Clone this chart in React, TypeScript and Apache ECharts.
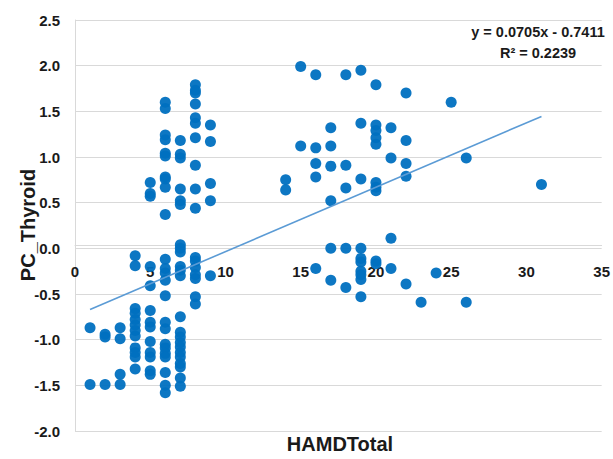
import React, { useEffect, useRef } from "react";
import * as echarts from "echarts";

// HAMDTotal scores (x) and the PC_Thyroid values observed at each score
const hamdScores = [1, 2, 3, 4, 5, 6, 7, 8, 9, 14, 15, 16, 17, 18, 19, 20, 21, 22, 23, 24, 25, 26, 31];
const pcByScore: number[][] = [
  [-0.87, -1.49],
  [-0.94, -0.97, -1.49],
  [-0.87, -0.99, -1.38, -1.49],
  [-0.08, -0.19, -0.66, -0.71, -0.78, -0.84, -0.9, -0.96, -1.09, -1.14, -1.19, -1.32],
  [0.72, 0.6, 0.57, -0.2, -0.41, -0.68, -0.81, -0.86, -1.02, -1.14, -1.19, -1.34, -1.38],
  [1.6, 1.53, 1.24, 1.19, 1.04, 1.01, 0.78, 0.76, 0.67, 0.37, -0.12, -0.22, -0.27, -0.35, -0.52, -0.81, -0.88, -1.05, -1.09, -1.15, -1.19, -1.36, -1.5, -1.58],
  [1.18, 1.03, 0.99, 0.65, 0.52, 0.48, 0.04, 0.0, -0.04, -0.2, -0.24, -0.3, -0.75, -0.92, -0.97, -1.03, -1.08, -1.14, -1.19, -1.26, -1.3, -1.42, -1.51],
  [1.79, 1.73, 1.7, 1.58, 1.43, 1.37, 1.21, 0.91, 0.65, 0.44, -0.1, -0.14, -0.21, -0.29, -0.33, -0.53, -0.61],
  [1.35, 1.17, 0.71, 0.52, -0.3],
  [0.75, 0.64],
  [1.99, 1.12],
  [1.9, 1.1, 0.93, 0.78, -0.22],
  [1.32, 1.12, 0.9, 0.52, 0.0, -0.35],
  [1.9, 0.91, 0.66, 0.0, -0.43],
  [1.95, 1.37, 0.76, 0.0, -0.11, -0.15, -0.25, -0.29, -0.34, -0.53],
  [1.79, 1.35, 1.29, 1.21, 1.14, 0.72, 0.67, 0.63, -0.14, -0.17],
  [1.32, 0.99, 0.11, -0.22],
  [1.7, 1.18, 0.93, 0.79, -0.39],
  [-0.59],
  [-0.27],
  [1.6],
  [0.99, -0.59],
  [0.7],
];

// Linear trendline fitted in the source chart
const trendSlope = 0.0705;
const trendIntercept = -0.7411;
const trendRange = [1, 31];
const equationLines = ["y = 0.0705x - 0.7411", "R² = 0.2239"];

const xTicks = { min: 0, max: 35, interval: 5 };
const yTicks = { min: -2, max: 2.5, interval: 0.5 };

const FONT = "'Liberation Sans', Arial, sans-serif";
const TEXT = "#1a1a1a";
const GRID = "#d9d9d9";
const GRID_BOTTOM = 28;
const HEIGHT = 459;

export default function App() {
  const ref = useRef<HTMLDivElement>(null);

  useEffect(() => {
    if (!ref.current) return;
    const chart = echarts.init(ref.current, undefined, { renderer: "svg" });

    const points: number[][] = [];
    hamdScores.forEach((x, i) => pcByScore[i].forEach((y) => points.push([x, y])));
    const trend = trendRange.map((x) => [x, trendSlope * x + trendIntercept]);

    chart.setOption({
      animation: false,
      backgroundColor: "#ffffff",
      grid: { left: 75, right: 10, top: 20, bottom: GRID_BOTTOM },
      xAxis: {
        type: "value",
        min: xTicks.min,
        max: xTicks.max,
        interval: xTicks.interval,
        axisLine: { show: true, onZero: true, lineStyle: { color: GRID, width: 1 } },
        axisTick: { show: false },
        splitLine: { show: false },
        axisLabel: {
          margin: 19,
          color: TEXT,
          fontFamily: FONT,
          fontWeight: "bold",
          fontSize: 15,
        },
      },
      yAxis: {
        type: "value",
        min: yTicks.min,
        max: yTicks.max,
        interval: yTicks.interval,
        axisLine: { show: true, onZero: false, lineStyle: { color: GRID, width: 1 } },
        axisTick: { show: false },
        splitLine: { show: true, lineStyle: { color: GRID, width: 1 } },
        axisLabel: {
          margin: 15,
          color: TEXT,
          fontFamily: FONT,
          fontWeight: "bold",
          fontSize: 15,
          formatter: (v: number) => v.toFixed(1),
        },
      },
      series: [
        {
          type: "scatter",
          data: points,
          symbolSize: 11,
          itemStyle: { color: "#0070C0", opacity: 0.95 },
          silent: true,
          z: 2,
        },
        {
          type: "line",
          data: trend,
          symbol: "none",
          lineStyle: { color: "#5B9BD5", width: 1.6 },
          silent: true,
          z: 3,
        },
      ],
      graphic: [
        {
          type: "text",
          x: 538,
          y: 32,
          style: {
            text: equationLines[0],
            font: `bold 14.5px ${FONT}`,
            fill: TEXT,
            align: "center",
            verticalAlign: "middle",
          },
        },
        {
          type: "text",
          x: 538,
          y: 53,
          style: {
            text: equationLines[1],
            font: `bold 14.5px ${FONT}`,
            fill: TEXT,
            align: "center",
            verticalAlign: "middle",
          },
        },
        {
          type: "text",
          x: 340,
          y: 444,
          style: {
            text: "HAMDTotal",
            font: `bold 20px ${FONT}`,
            fill: TEXT,
            align: "center",
            verticalAlign: "middle",
          },
        },
        {
          type: "text",
          x: 28,
          y: 225,
          rotation: Math.PI / 2,
          style: {
            text: "PC_Thyroid",
            font: `bold 20px ${FONT}`,
            fill: TEXT,
            align: "center",
            verticalAlign: "middle",
          },
        },
      ],
    });

    // Place the horizontal axis where y = 0, as in the source chart
    const zeroY = chart.convertToPixel({ yAxisIndex: 0 }, 0) as number;
    if (typeof zeroY === "number" && isFinite(zeroY)) {
      const bottomY = HEIGHT - GRID_BOTTOM;
      chart.setOption({ xAxis: { offset: -(bottomY - zeroY) } });
    }

    return () => chart.dispose();
  }, []);

  return <div ref={ref} style={{ width: 613, height: 459, position: "absolute", left: 0, top: 0 }} />;
}
